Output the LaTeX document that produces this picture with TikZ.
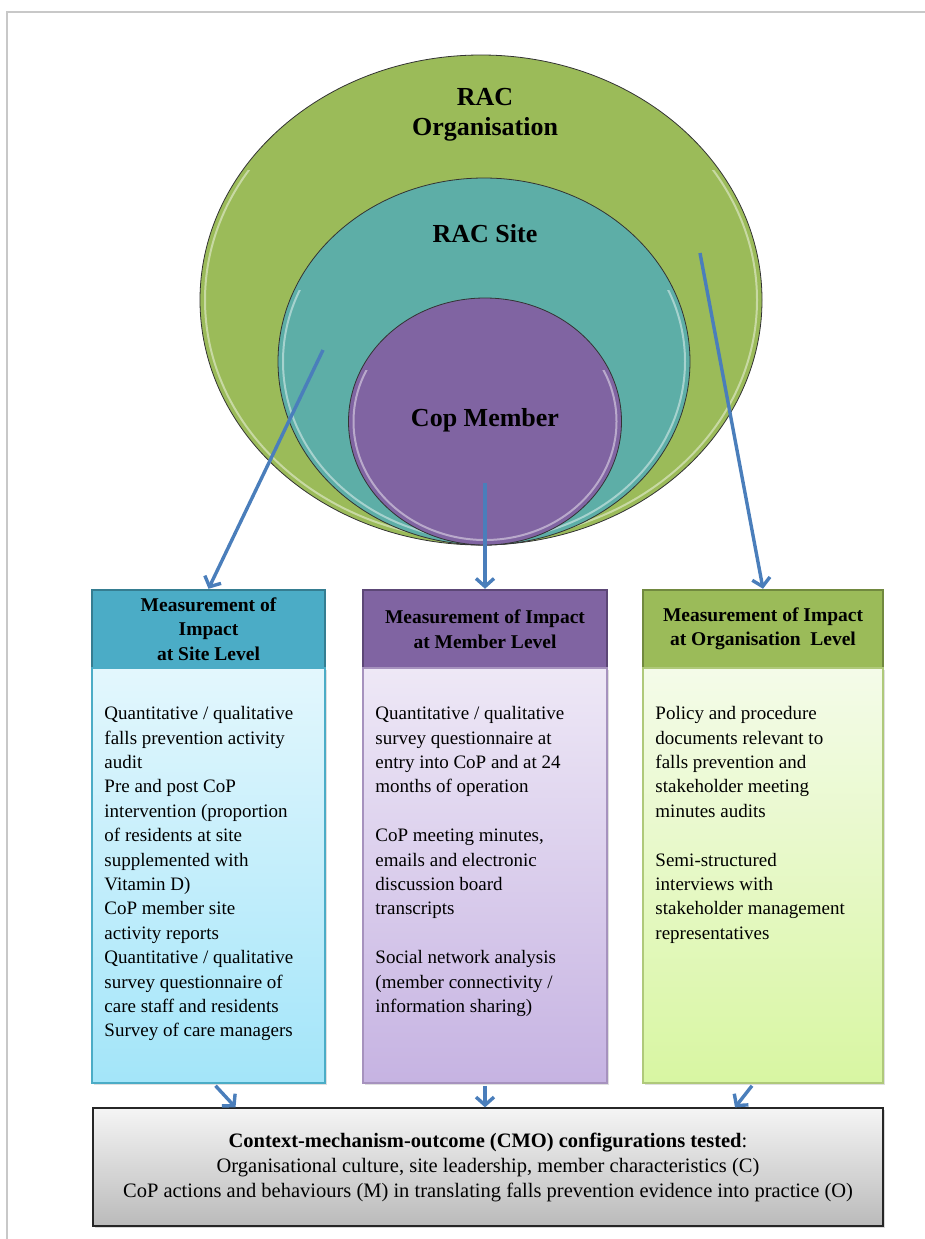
\documentclass[tikz,border=0pt]{standalone}
\usepackage{fontspec}
\setmainfont{Liberation Serif}
\usetikzlibrary{shapes.geometric,arrows.meta,shadows}

\definecolor{orgGreen}{HTML}{9BBB59}
\definecolor{orgLine}{HTML}{71893F}
\definecolor{orgTop}{HTML}{F4FBE9}
\definecolor{orgBottom}{HTML}{D8F6A2}
\definecolor{siteTeal}{HTML}{5DAEA7}
\definecolor{siteHead}{HTML}{4BACC6}
\definecolor{siteLine}{HTML}{357D91}
\definecolor{siteTop}{HTML}{E3F7FD}
\definecolor{siteBottom}{HTML}{A3E5F9}
\definecolor{memberPurple}{HTML}{8064A2}
\definecolor{memberLine}{HTML}{5C4776}
\definecolor{memberTop}{HTML}{EEE8F6}
\definecolor{memberBottom}{HTML}{C6B3E2}
\definecolor{arrBlue}{HTML}{4A7EBB}
\definecolor{frameGray}{HTML}{C8C8C8}

\tikzset{
  ring/.style={ellipse, draw=black!80, line width=0.8pt, inner sep=0pt},
  glint/.style={ellipse, draw=white, draw opacity=0.45, line width=2pt, inner sep=0pt},
  lbl/.style={font=\fontsize{26}{30}\selectfont\bfseries, align=center, inner sep=0pt},
  hdr/.style={draw, line width=2.5pt, minimum height=78pt, inner sep=0pt,
    font=\fontsize{19.5}{24.5}\selectfont\bfseries, align=center},
  body/.style={line width=1.5pt, minimum height=415pt, inner sep=0pt,
    drop shadow={shadow xshift=2pt, shadow yshift=-2pt, opacity=0.25}},
  txt/.style={anchor=north west, align=left, inner sep=0pt,
    font=\fontsize{19}{24.4}\selectfont},
  arr/.style={draw=arrBlue, line width=3.4pt, -{Straight Barb[length=8pt,width=18pt]}},
}

\begin{document}
\begin{tikzpicture}[x=1pt, y=-1pt]
  \useasboundingbox (0,0) rectangle (925,1239);
  % page frame
  \draw[frameGray, line width=2pt] (7,1239) -- (7,12) -- (925,12);

  % nested ellipses
  \node[ring, fill=orgGreen, minimum width=562pt, minimum height=490pt] (org) at (481,300) {};
  \begin{scope}
    \clip (0,170) rectangle (925,560);
    \node[glint, minimum width=552pt, minimum height=480pt] at (org.center) {};
  \end{scope}
  \node[ring, fill=siteTeal, minimum width=412pt, minimum height=367pt] (site) at (484,361.5) {};
  \begin{scope}
    \clip (0,290) rectangle (925,560);
    \node[glint, minimum width=402pt, minimum height=357pt] at (site.center) {};
  \end{scope}
  \node[ring, fill=memberPurple, minimum width=273pt, minimum height=247pt] (member) at (485,421.5) {};
  \begin{scope}
    \clip (0,370) rectangle (925,560);
    \node[glint, minimum width=263pt, minimum height=237pt] at (member.center) {};
  \end{scope}
  \node[lbl] (orglbl) at (485,115) {RAC\\Organisation};
  \node[lbl] (sitelbl) at (485,234) {RAC Site};
  \node[lbl] (memberlbl) at (485,420) {Cop Member};

  % measurement boxes
  \node[hdr, fill=siteHead, draw=siteLine, minimum width=233pt] (sitehead) at (208.5,629) {Measurement of\\Impact\\at Site Level};
  \node[body, draw=siteHead, shade, top color=siteTop, bottom color=siteBottom, minimum width=233pt] (sitebody) at (208.5,875.5) {};
  \node[hdr, fill=memberPurple, draw=memberLine, minimum width=244pt] (memberhead) at (485,629) {Measurement of Impact\\at Member Level};
  \node[body, draw=memberPurple!70, shade, top color=memberTop, bottom color=memberBottom, minimum width=244pt] (memberbody) at (485,875.5) {};
  \node[hdr, fill=orgGreen, draw=orgLine, minimum width=240pt] (orghead) at (763,629) {Measurement of Impact\\at Organisation\ \ Level};
  \node[body, draw=orgGreen!80, shade, top color=orgTop, bottom color=orgBottom, minimum width=240pt] (orgbody) at (763,875.5) {};

  \node[txt] (sitetxt) at ([xshift=13pt, yshift=-39pt]sitebody.north west)
    {Quantitative / qualitative\\falls prevention activity\\audit\\Pre and post CoP\\intervention (proportion\\of residents at site\\supplemented with\\Vitamin D)\\CoP member site\\activity reports\\Quantitative / qualitative\\survey questionnaire of\\care staff and residents\\Survey of care managers};
  \node[txt] (membertxt) at ([xshift=13pt, yshift=-39pt]memberbody.north west)
    {Quantitative / qualitative\\survey questionnaire at\\entry into CoP and at 24\\months of operation\\[24.4pt]CoP meeting minutes,\\emails and electronic\\discussion board\\transcripts\\[24.4pt]Social network analysis\\(member connectivity /\\information sharing)};
  \node[txt] (orgtxt) at ([xshift=13pt, yshift=-39pt]orgbody.north west)
    {Policy and procedure\\documents relevant to\\falls prevention and\\stakeholder meeting\\minutes audits\\[24.4pt]Semi-structured\\interviews with\\stakeholder management\\representatives};

  % CMO box
  \node[draw=black!85, line width=1.3pt, shade, top color=black!4, bottom color=black!27,
    minimum width=790pt, minimum height=118pt, align=center, inner sep=0pt,
    font=\fontsize{20.5}{25}\selectfont,
    drop shadow={shadow xshift=2pt, shadow yshift=-2pt, opacity=0.3}] (cmo) at (488,1167)
    {\textbf{Context-mechanism-outcome (CMO) configurations tested}:\\
     Organisational culture, site leadership, member characteristics (C)\\
     CoP actions and behaviours (M) in translating falls prevention evidence into practice (O)};

  % arrows
  \coordinate (sitetail) at (323,350);
  \coordinate (membertail) at (485,483);
  \coordinate (orgtail) at (700,253);
  \draw[arr] (sitetail) -- (sitehead.north);
  \draw[arr] (membertail) -- (memberhead.north);
  \draw[arr] (orgtail) -- (orghead.north);
  \draw[arr] ([xshift=7pt, yshift=-2pt]sitebody.south) -- ([xshift=27pt]sitebody.south |- cmo.north);
  \draw[arr] ([yshift=-2pt]memberbody.south) -- (memberbody.south |- cmo.north);
  \draw[arr] ([xshift=-11pt, yshift=-2pt]orgbody.south) -- ([xshift=-28pt]orgbody.south |- cmo.north);
\end{tikzpicture}
\end{document}
